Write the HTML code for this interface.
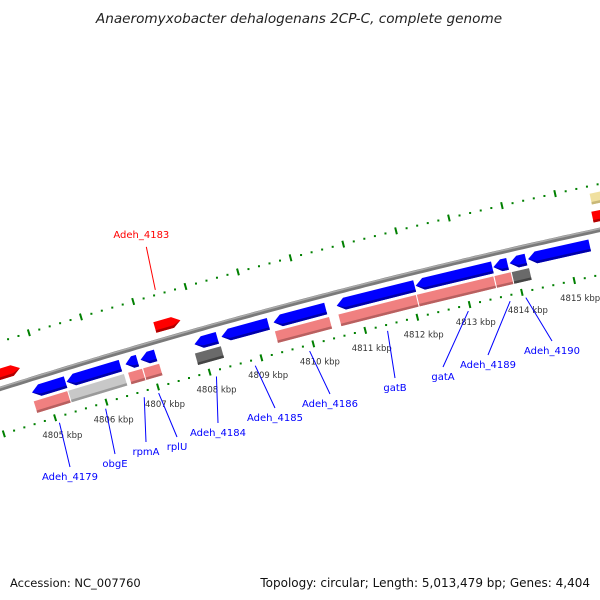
<!DOCTYPE html>
<html><head><meta charset="utf-8"><style>
html,body{margin:0;padding:0;background:#fff;width:600px;height:600px;overflow:hidden}
svg{display:block;font-family:"DejaVu Sans","Liberation Sans",sans-serif}
</style></head><body>
<svg id="map" width="600" height="600" viewBox="0 0 600 600">
<text x="299" y="23" text-anchor="middle" font-size="13.6" font-style="italic" fill="#222">Anaeromyxobacter dehalogenans 2CP-C, complete genome</text>
<text x="10" y="587" font-size="11.5" fill="#111">Accession: NC_007760</text>
<text x="590" y="587" font-size="12" fill="#111" text-anchor="end">Topology: circular; Length: 5,013,479 bp; Genes: 4,404</text>
<g id="layer"></g>
</svg>
<script>
// ---- data (kbp positions) ----
const revGeneStart = [4804.72,4805.39,4806.53,4806.82,4807.86,4808.38,4809.38,4810.59,4812.10,4813.58,4813.89,4814.24];
const revGeneEnd   = [4805.39,4806.45,4806.78,4807.13,4808.32,4809.30,4810.40,4812.10,4813.58,4813.87,4814.22,4815.43];
const fwdGeneStart = [4803.90,4807.25,4815.58];
const fwdGeneEnd   = [4804.65,4807.74,4816.60];
const featStart = [4804.70,4805.37,4806.53,4806.82,4807.82,4809.36,4810.58,4812.08,4813.56,4813.89];
const featEnd   = [4805.37,4806.47,4806.82,4807.15,4808.34,4810.42,4812.08,4813.56,4813.89,4814.24];
const featType  = ["pink","lgray","pink","pink","dgray","pink","pink","pink","pink","dgray"];
const otherStart = [4815.62];
const otherEnd   = [4816.60];
const tickLabels = ["4805 kbp","4806 kbp","4807 kbp","4808 kbp","4809 kbp","4810 kbp","4811 kbp","4812 kbp","4813 kbp","4814 kbp","4815 kbp"];
const tickLabelKbp = [4805,4806,4807,4808,4809,4810,4811,4812,4813,4814,4815];
const geneNames = ["Adeh_4179","obgE","rpmA","rplU","Adeh_4184","Adeh_4185","Adeh_4186","gatB","gatA","Adeh_4189","Adeh_4190"];
const geneLabelKbp = [4805.05,4805.95,4806.70,4806.98,4808.10,4808.85,4809.90,4811.40,4812.95,4813.75,4814.05];
const labelX = [70,115,146,177,218,275,330,395,443,488,552];
const labelY = [480,467,455,450,436,421,407,391,380,368,354];
const fwdLabelName = ["Adeh_4183"];
const fwdLabelKbp = [4807.45];

// ---- geometry ----
const CX=1997, CY=6711, R0=6630, PHI0=-0.2993, DPHI=0.008156, K0=4805;
function P(k,r){const a=PHI0+(k-K0)*DPHI;return [CX+r*Math.sin(a), CY-r*Math.cos(a)];}
function pts(arr){return arr.map(p=>p[0].toFixed(1)+','+p[1].toFixed(1)).join(' ');}
const NS='http://www.w3.org/2000/svg';
const layer=document.getElementById('layer');
function mk(tag,attrs,parent){const e=document.createElementNS(NS,tag);for(const a in attrs)e.setAttribute(a,attrs[a]);(parent||layer).appendChild(e);return e;}
const AH=0.15;

// backbone
let bb=[];for(let k=4802;k<=4818;k+=0.1)bb.push(P(k,R0));
let b1=mk('polyline',{points:pts(bb),fill:'none',stroke:'#7a7a7a','stroke-width':4.5});


let bb2=[];for(let k=4802;k<=4818;k+=0.1)bb2.push(P(k,R0+1.2));
let b2=mk('polyline',{points:pts(bb2),fill:'none',stroke:'#aaa','stroke-width':1.5});



// scale lines
[R0+45,R0-44].forEach((r,li)=>{
  for(let k=4802;k<=4818.01;k+=0.2){
    const kk=Math.round(k*10)/10;
    const major=Math.abs(kk-Math.round(kk))<0.01;
    if(major){
      const a=P(kk,r-3.5),b=P(kk,r+3.5);
      const t=mk('line',{x1:a[0],y1:a[1],x2:b[0],y2:b[1],stroke:'#008000','stroke-width':2});
      
      
    }else{
      const c=P(kk,r);
      const d=mk('rect',{x:c[0]-1,y:c[1]-1,width:2,height:2,fill:'#008000'});
      
      
    }
  }
});
tickLabels.forEach((s,i)=>{
  const c=P(tickLabelKbp[i],R0-62);
  const t=mk('text',{x:c[0]+2,y:c[1]+3,'font-size':8.5,fill:'#333','text-anchor':'middle'});
  t.textContent=s;
  
  
});

// features (rectangles)
const fcol={pink:['#f08080','#b86060'],lgray:['#c8c8c8','#9a9a9a'],dgray:['#6a6a6a','#444']};
function box(k1,k2,rc,h,col,dark,name){
  const top=rc+h/2, bot=rc-h/2;
  const g=mk('polygon',{points:pts([P(k1,top),P(k2,top),P(k2,bot),P(k1,bot)]),fill:col});
  
  
  const s=mk('polygon',{points:pts([P(k1,bot+2.5),P(k2,bot+2.5),P(k2,bot),P(k1,bot)]),fill:dark});
  
  
}
featStart.forEach((k,i)=>{const c=fcol[featType[i]];box(k+0.01,featEnd[i]-0.01,R0-28,12,c[0],c[1],'feature-'+featType[i]);});
otherStart.forEach((k,i)=>box(k,otherEnd[i],R0+32,11,'#f0e0a0','#c8b878','misc-feature'));

// arrows
function arrow(k1,k2,rc,h,dir,col,dark,name){
  const top=rc+h/2,bot=rc-h/2;
  const ah=Math.min(AH,(k2-k1)*0.6);
  let p;
  if(dir<0) p=[P(k1,rc),P(k1+ah,top),P(k2,top),P(k2,bot),P(k1+ah,bot)];
  else p=[P(k2,rc),P(k2-ah,top),P(k1,top),P(k1,bot),P(k2-ah,bot)];
  const g=mk('polygon',{points:pts(p),fill:col});
  
  
  let s;
  if(dir<0) s=[P(k1,rc),P(k1+ah,bot),P(k2,bot),P(k2,bot+2.5),P(k1+ah,bot+2.5)];
  else s=[P(k2,rc),P(k2-ah,bot),P(k1,bot),P(k1,bot+2.5),P(k2-ah,bot+2.5)];
  const sh=mk('polygon',{points:pts(s),fill:dark});
  
  
}
revGeneStart.forEach((k,i)=>arrow(k+0.01,revGeneEnd[i]-0.01,R0-13,12,-1,'#0000ff','#0000a8','reverse-gene'));
fwdGeneStart.forEach((k,i)=>arrow(k,fwdGeneEnd[i],R0+14,11,1,'#ff0000','#b00000','forward-gene'));

// gene labels
geneNames.forEach((n,i)=>{
  const a=P(geneLabelKbp[i],R0-50);
  const l=mk('line',{x1:a[0],y1:a[1],x2:labelX[i],y2:labelY[i]-13,stroke:'#0000ff','stroke-width':1});
  
  
  const t=mk('text',{x:labelX[i],y:labelY[i],'font-size':10,fill:'#0000ff','text-anchor':'middle'});
  t.textContent=n;
  
  
});
fwdLabelName.forEach((n,i)=>{
  const a=P(fwdLabelKbp[i],R0+50);
  const l=mk('line',{x1:a[0],y1:a[1],x2:a[0]-9,y2:a[1]-43,stroke:'#ff0000','stroke-width':1});
  
  
  const t=mk('text',{x:a[0]-14,y:a[1]-52,'font-size':10,fill:'#ff0000','text-anchor':'middle'});
  t.textContent=n;
  
  
});
</script>
</body></html>
